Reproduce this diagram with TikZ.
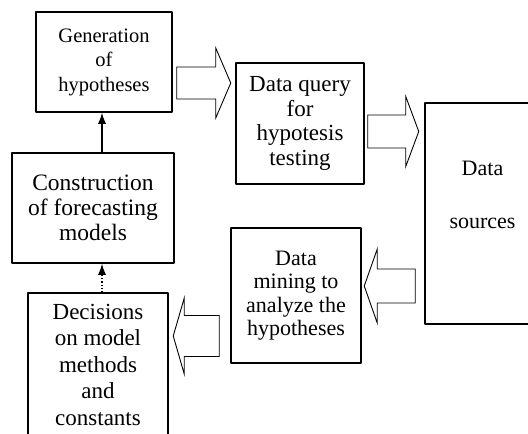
\documentclass[tikz,border=0pt]{standalone}
\usepackage{fontspec}
\setmainfont{Liberation Serif}
\usetikzlibrary{calc,arrows.meta}
\tikzset{box/.style={draw,line width=1.5pt,align=center,inner sep=2pt},
	hollow/.style={draw,line width=0.9pt,fill=white,line join=miter}}
\newcommand{\fs}[2]{\fontsize{#1}{#2}\selectfont}
\begin{document}
\begin{tikzpicture}[x=1pt,y=-1pt,>={Latex[length=11pt,width=8pt]},line join=round]
			\useasboundingbox (0,0) rectangle (528,434);
			\node[box,minimum width=136,minimum height=100,font=\fs{20.5}{24.5}] (gen) at (104,62) {Generation\\of\\hypotheses};
			\node[box,minimum width=162,minimum height=110,font=\fs{23.5}{25}] (constr) at (93,208) {Construction\\of forecasting\\models};
			\node[box,minimum width=140,minimum height=143,font=\fs{23}{26.5}] (dec) at (98,364.5) {Decisions\\on model\\methods\\and\\constants};
			\node[box,minimum width=128,minimum height=121,font=\fs{23}{24.5}] (query) at (300,123.5) {Data query\\for\\hypotesis\\testing};
			\node[box,minimum width=130,minimum height=135,font=\fs{22}{23.5}] (mining) at (296,295.5) {Data\\mining to\\analyze the\\hypotheses};
			\node[box,minimum width=115,minimum height=221] (src) at (482.5,213.5) {};
			\node[align=center,font=\fs{22}{25}] (srclbl) at ($(src.center)+(0,-19)$) {Data\\[28pt]sources};
			% block arrows
			\coordinate (a1) at ($(gen.east)+(4,21)$);
			\coordinate (a2) at ($(query.east)+(3,8)$);
			\coordinate (a3) at ($(src.west)+(-9,72.5)$);
			\coordinate (a4) at ($(mining.west)+(-11,40.5)$);
			\draw[hollow] (a1) ++(0,-16) -- ++(39,0) -- ++(0,-19) -- ++(15,35) -- ++(-15,35) -- ++(0,-19) -- ++(-39,0) -- cycle;
			\draw[hollow] (a2) ++(0,-16.5) -- ++(38,0) -- ++(0,-18.5) -- ++(13,35) -- ++(-13,35) -- ++(0,-18.5) -- ++(-38,0) -- cycle;
			\draw[hollow] (a3) ++(0,-17) -- ++(-38,0) -- ++(0,-20) -- ++(-13,37) -- ++(13,37) -- ++(0,-20) -- ++(38,0) -- cycle;
			\draw[hollow] (a4) ++(0,-20.5) -- ++(-35,0) -- ++(0,-17.5) -- ++(-11,38) -- ++(11,38) -- ++(0,-17.5) -- ++(35,0) -- cycle;
			% vertical arrows
			\draw[->,line width=1.2pt] ([xshift=-2pt]gen.south |- constr.north) -- ([xshift=-2pt]gen.south);
			\draw[->,line width=1.2pt,dotted] ([xshift=4pt]dec.north) -- ([xshift=4pt]dec.north |- constr.south);
		\end{tikzpicture}
\end{document}
